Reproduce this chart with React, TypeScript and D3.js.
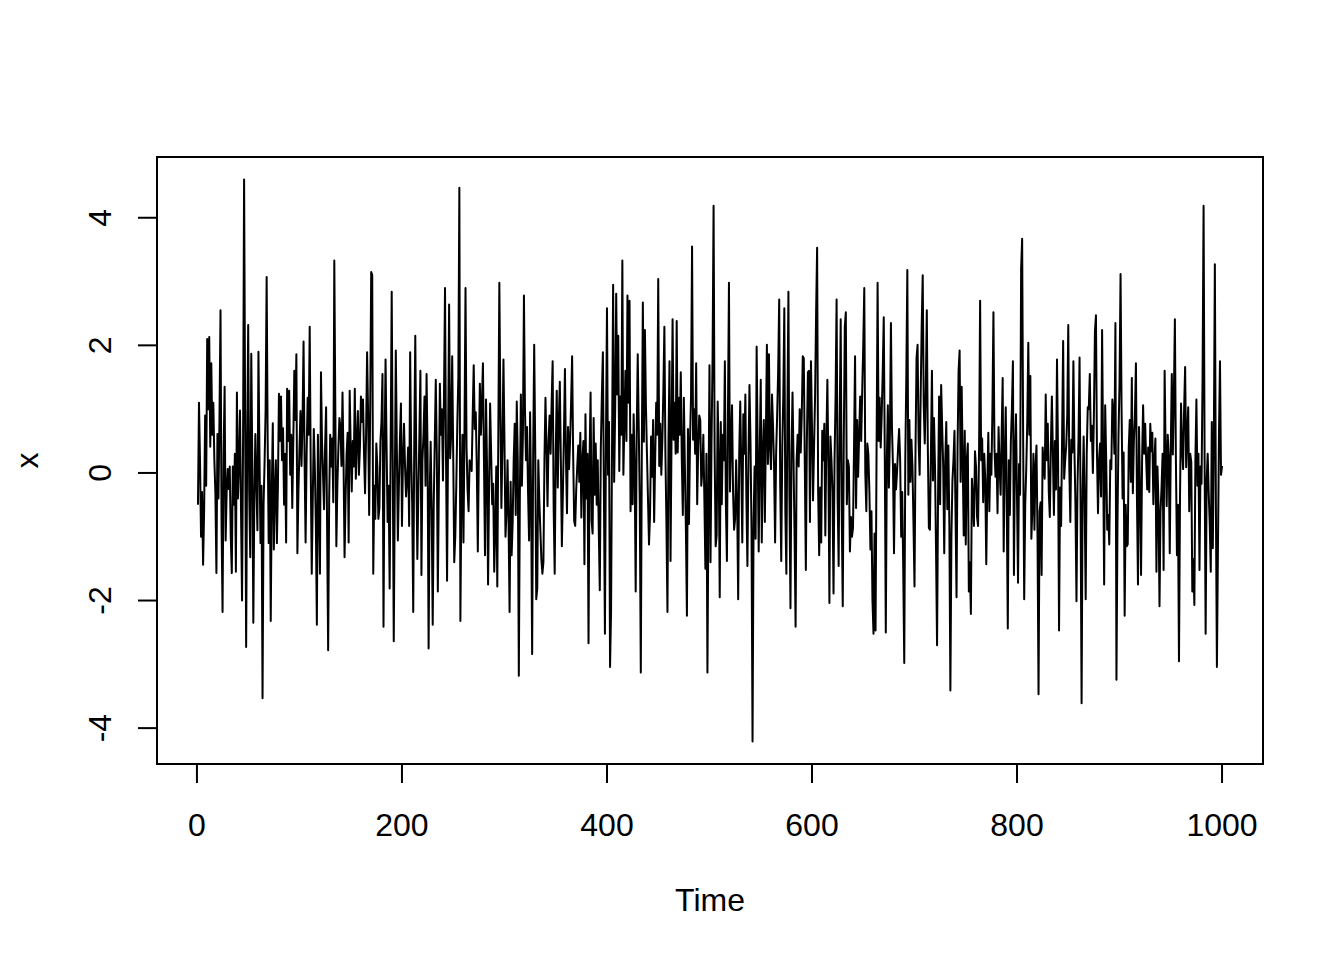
import React from "react";
import * as d3 from "d3";

const xTicks = [0, 200, 400, 600, 800, 1000];
const yTicks = [-4, -2, 0, 2, 4];
const xLabel = "Time";
const yLabel = "x";

const seriesX: number[] = [
  -0.5, 1.1, 0.2, -1.0, -0.3, -1.44, -0.6, 0.9, -0.2, 2.1, 1.0, 2.13, 0.41, 1.72, 0.6, 1.1, 0.2, -0.31, -1.57, 0.61,
  -0.4, 0.9, 2.55, -0.8, -2.18, 0.3, 1.35, -1.06, -0.3, 0.06, -0.25, 0.1, -1.0, -1.57, 0.1, -0.5, 0.3, -1.55, 1.26, -0.4,
  0.14, 0.98, -0.6, -2.0, 0.5, 4.6, 1.0, -2.73, 0.4, 2.32, -0.3, -1.32, 1.87, 0.2, -2.35, -0.4, 0.61, -0.2, -0.9, 1.9,
  0.3, -1.1, -0.2, -3.53, -0.5, 0.17, 1.0, 3.07, 0.5, -1.1, 0.2, -2.32, -0.3, 0.78, -1.2, -0.3, 0.2, -1.1, -0.2, 1.24,
  0.5, 1.2, 0.2, 0.7, -0.5, 0.3, -1.09, 1.32, 0.5, 1.29, -0.03, 0.6, -0.55, 0.5, 1.6, 0.83, 1.86, -1.26, -0.3, 0.37,
  0.97, 0.11, 0.8, 2.06, 0.2, -1.09, 0.3, 1.18, 0.6, 2.29, 0.1, -1.58, -0.4, 0.69, 0.09, -0.8, -2.38, 0.6, -0.5, -1.58,
  1.58, 0.5, -0.03, -0.57, 0.4, 1.03, -0.9, -2.78, -0.4, 0.6, 0.1, 0.54, -0.46, 3.33, 1.0, -1.15, -0.2, 0.4, 0.86, 0.72,
  0.11, 1.26, 0.2, -1.32, -0.4, 0.3, 0.63, -1.09, 1.29, 0.4, -0.29, 0.5, 0.1, 1.32, -0.09, 0.5, 0.97, -0.03, 0.4, 1.2,
  0.8, 1.15, 0.3, -0.32, 0.6, 1.89, 0.9, -0.66, 1.0, 3.15, 3.1, -1.58, -0.2, -0.72, 0.46, 0.1, -0.72, -0.55, 0.5, 0.8,
  1.55, -2.41, 0.3, 1.78, 0.4, -0.77, -0.2, -1.81, 0.5, 2.84, 0.2, -2.64, -0.3, 1.92, 0.4, -1.06, -0.2, 0.5, 1.09, -0.83,
  0.2, 0.77, 0.1, -0.37, -0.09, 0.4, -0.83, 1.89, 0.26, -0.5, -2.18, 0.5, 2.15, 0.1, -1.35, -0.3, 0.6, 1.6, -1.6, 0.2,
  0.6, 1.2, -0.2, 1.55, 0.3, -2.75, -0.4, 0.49, -0.6, -2.38, -0.5, 0.5, 1.46, 0.3, -1.86, -0.2, 1.4, 0.6, 1.0, -0.12,
  1.2, 2.9, 0.2, -1.69, 0.5, 2.64, 0.23, 0.6, 1.83, 0.3, -1.4, -1.0, -0.2, 0.77, 1.5, 4.47, -2.32, -0.3, 0.6, -1.09,
  0.7, 2.9, 0.4, -0.26, -0.6, 0.2, 0.14, 0.03, 0.9, 1.69, 0.69, 0.95, 0.1, -1.23, 0.3, 1.4, 0.6, 1.1, 1.72, 0.2,
  -1.29, 1.15, 0.1, -1.75, -0.2, 1.09, 0.3, -0.49, -0.17, -1.55, -0.89, 0.1, -1.78, 0.6, 2.98, 1.0, -0.55, 0.4, 1.78, 0.5,
  -1.0, -0.6, 0.2, -0.8, -2.18, -0.14, -1.29, -0.77, 0.2, 0.77, -0.66, 1.12, 0.2, -3.18, -0.4, 1.23, -0.2, 0.6, 2.78, 1.0,
  0.2, 0.72, -0.3, -1.06, 0.95, -0.4, -2.84, 0.3, 2.01, 0.4, -1.98, -1.81, 0.2, -0.43, -0.9, -1.35, -1.58, -1.4, 0.2, 1.18,
  0.4, -0.52, 0.49, 0.9, 0.3, 1.1, 1.75, -0.57, -1.58, 0.3, 1.29, -0.23, 0.8, 1.43, 0.2, -1.15, -0.3, 0.6, 1.63, 0.2,
  -0.63, 0.72, 0.06, 0.5, 1.1, 1.83, 0.3, -0.75, -0.83, -0.26, 0.1, 0.43, -0.14, 0.63, -0.7, 0.2, 0.5, -1.43, 0.92, -0.4,
  0.3, -2.67, 0.2, 1.26, -0.75, -0.95, 0.86, -0.34, 0.46, -0.5, 0.2, -0.9, -1.84, 0.4, 1.2, 1.89, -0.3, -2.52, 0.5, 2.58,
  -0.03, 0.8, -3.04, -2.15, 0.6, 2.95, -0.14, 1.0, 2.81, 1.23, 2.15, 0.03, 1.2, 0.6, 3.33, -0.03, 0.8, 1.6, 0.5, 2.78,
  1.1, 2.7, -0.6, 0.6, -0.49, 0.92, 0.1, -1.86, 0.6, 1.86, 0.72, -0.5, -3.13, 0.4, 2.67, 0.49, 2.24, 1.06, 0.3, -0.4,
  -1.12, -0.66, 0.57, -0.06, 0.83, -0.77, 0.2, 1.1, 0.6, 3.04, 0.11, 0.77, -0.03, 0.5, 1.3, 2.29, 0.3, -0.8, -2.18, 0.5,
  1.75, -1.38, 0.6, 2.41, 0.52, 1.1, 0.3, 2.38, 0.32, 1.18, 0.6, 1.58, 0.2, -0.66, 1.18, 0.1, -0.9, -2.24, 0.69, -0.8,
  0.5, 1.2, 3.55, 0.52, 1.0, 0.3, 1.72, -0.49, 0.4, 0.9, 0.83, -0.2, 0.03, 0.6, -0.4, -1.5, 0.3, -3.13, -0.5, 1.69,
  -1.4, 0.5, 1.8, 4.19, 0.4, -1.15, -0.98, 1.12, 0.2, -1.95, 0.8, -0.49, 0.6, 0.2, 1.75, -0.5, -1.38, 0.9, 2.98, -0.29,
  0.5, 1.06, -0.3, -0.89, -0.72, 0.2, -0.5, -1.98, 0.3, 1.12, 0.1, -1.09, 0.92, 0.3, 1.23, -0.4, -1.46, 0.2, 1.38, 0.5,
  -0.9, -4.21, -0.77, 0.1, -1.03, 1.98, 0.4, -1.23, 0.3, 1.46, -1.09, 0.3, 0.83, -0.77, 0.6, 2.01, 0.14, 1.86, 0.4, 0.06,
  1.23, 0.72, 0.1, -1.09, 0.3, 0.9, 1.6, 2.72, -0.2, -1.38, 0.4, 1.2, 2.58, -0.6, -1.58, 0.9, 2.84, -0.4, -2.12, 0.3,
  1.26, 0.2, -1.0, -2.41, 0.2, 0.6, 0.1, 1.0, 0.32, 0.9, 1.83, 1.8, 0.1, -1.52, 0.5, 1.58, 1.6, -0.77, 1.75, 0.72,
  -0.43, 0.4, 1.2, 2.5, 3.53, -0.3, -1.29, -0.23, -1.09, 0.66, 0.2, 0.77, -0.98, 0.5, 1.46, 0.1, -2.04, 0.57, 0.2, -0.3,
  -1.89, 0.2, 1.2, 2.72, -0.4, -1.46, 0.8, 2.41, -0.6, -2.09, 0.5, 2.29, 2.52, -0.49, 0.2, 0.1, -1.23, -0.69, -1.0, -0.86,
  0.4, 1.83, -0.55, 0.83, -0.06, 0.6, 1.2, 0.5, 1.3, 2.0, 2.9, 0.0, -0.6, 0.46, 0.29, -0.3, -1.2, -0.6, -2.0, -2.52,
  -0.95, -2.47, 0.4, 2.98, 0.5, 1.18, 0.4, 0.9, 1.6, 2.44, 0.3, -2.5, 0.2, 1.06, -0.23, 0.6, 2.35, 0.72, 0.1, -1.26,
  0.14, -0.26, 0.03, 0.4, 0.69, 0.2, -1.0, -0.3, -1.5, -2.98, 0.2, 1.5, 3.18, -0.34, 0.83, -0.14, 0.52, 0.1, -0.8, -1.78,
  0.4, 1.81, 2.01, 0.5, -0.03, 1.2, 2.3, 3.1, 1.06, 0.46, 1.3, 2.55, 0.4, -0.86, -0.89, 0.3, 1.6, -0.12, 0.86, 0.1,
  -1.2, -2.7, -0.3, 1.2, -0.49, 1.38, 0.72, 0.1, -1.26, 0.2, 0.8, -0.57, 0.43, -0.8, -3.41, -1.0, -0.12, 0.2, 0.66, -0.6,
  -1.95, 0.4, 1.6, 1.92, -0.14, 1.35, 0.2, -0.98, 0.66, -1.12, 0.2, 0.46, -1.86, -1.4, -2.21, -0.09, -0.4, -0.83, 0.34, 0.1,
  -0.69, -0.83, 0.4, 2.7, 0.2, 0.54, -0.46, 0.3, -0.09, -1.43, -0.2, 0.63, -0.6, 0.3, -0.03, 1.0, 2.52, 0.4, -0.06, 0.3,
  -0.63, 0.72, 0.1, -0.34, 0.6, 1.49, -1.23, 0.2, 1.03, -0.5, -2.44, 0.2, -0.66, 0.5, 1.0, 1.75, -1.6, 0.3, 0.92, -0.4,
  -1.72, 0.14, -0.34, 3.2, 3.67, 0.5, -1.98, -0.5, 0.06, 0.8, 2.04, 0.6, 1.52, -1.03, -0.55, 0.3, -0.89, 0.1, 0.43, -1.0,
  -3.47, -0.6, -0.46, -1.6, 0.4, 0.14, -0.09, 1.23, 0.2, 0.77, -0.3, -0.69, 0.4, 1.2, 0.3, -0.66, 0.5, -0.26, 1.78, 0.3,
  -2.47, -0.23, -0.83, 0.6, 2.07, -0.09, 0.2, 0.43, 0.9, 2.32, 0.1, -0.77, 0.52, 0.32, 1.75, 0.37, -0.5, -2.01, -0.2, 0.54,
  1.81, -0.5, -3.61, -0.3, 0.57, -0.5, -1.98, 0.3, 1.03, 1.0, 1.55, 0.5, 0.74, 0.0, 0.9, 2.21, 2.47, 0.3, -0.63, 0.2,
  0.46, -0.37, 2.24, 0.3, -1.75, 1.06, 0.2, -0.89, -0.66, -1.12, 0.2, 0.06, 1.15, 0.95, 0.3, 2.35, -3.24, -0.8, 0.6, 1.4,
  3.12, 1.0, -0.4, 0.32, -2.24, -0.5, -1.15, -1.12, 0.4, 0.83, -0.14, 1.49, -0.32, 0.5, 0.9, 1.72, -0.4, -1.75, 0.72, -0.3,
  -1.6, 0.2, 1.06, 0.3, 0.77, 0.2, -0.26, 0.4, -0.3, 0.77, 0.34, 0.63, -0.49, 0.2, 0.54, -1.55, 0.1, -0.49, -2.09, -0.6,
  -0.23, 0.3, -1.52, 1.6, 0.3, -0.52, 0.6, 0.26, -1.26, 0.4, 1.55, 0.29, 1.2, 2.41, 0.2, -1.29, -0.5, -2.95, -0.4, 1.09,
  0.4, 0.06, 1.0, 1.66, 0.09, 0.6, 1.03, -0.6, 0.3, 0.17, -1.86, -1.35, -2.07, 0.2, 1.15, -0.2, 0.3, -1.52, 0.1, -0.17,
  1.5, 4.19, 0.2, -2.52, -0.12, 0.3, -0.32, -0.8, -1.55, 0.8, -1.18, 0.5, 3.27, -0.5, -3.04, -1.2, 0.6, 1.75, -0.03, 0.11,
];

const W = 1344;
const H = 960;
const plotLeft = 157;
const plotRight = 1263;
const plotTop = 157;
const plotBottom = 764;
const FONT = "'Liberation Sans', Arial, Helvetica, sans-serif";
const FS = 32;

export default function App() {
  const times = seriesX.map((_, i) => i + 1);
  const [tMin, tMax] = d3.extent(times) as [number, number];
  const [vMin, vMax] = d3.extent(seriesX) as [number, number];
  const tPad = (tMax - tMin) * 0.04;
  const vPad = (vMax - vMin) * 0.04;

  const x = d3.scaleLinear().domain([tMin - tPad, tMax + tPad]).range([plotLeft, plotRight]);
  const y = d3.scaleLinear().domain([vMin - vPad, vMax + vPad]).range([plotBottom, plotTop]);

  const line = d3
    .line<number>()
    .x((_, i) => x(times[i]))
    .y((d) => y(d));

  const tickLen = 19;

  return (
    <div style={{ position: "absolute", left: 0, top: 0 }}>
      <svg width={W} height={H} style={{ display: "block", background: "#fff" }}>
        <rect x={0} y={0} width={W} height={H} fill="#fff" />
        <path d={line(seriesX) || ""} fill="none" stroke="#000" strokeWidth={2} strokeLinejoin="round" />
        <rect
          x={plotLeft}
          y={plotTop}
          width={plotRight - plotLeft}
          height={plotBottom - plotTop}
          fill="none"
          stroke="#000"
          strokeWidth={2}
        />
        {/* x axis */}
        <line
          x1={x(xTicks[0])}
          x2={x(xTicks[xTicks.length - 1])}
          y1={plotBottom}
          y2={plotBottom}
          stroke="#000"
          strokeWidth={2}
        />
        {xTicks.map((t) => (
          <g key={"xt" + t}>
            <line x1={x(t)} x2={x(t)} y1={plotBottom} y2={plotBottom + tickLen} stroke="#000" strokeWidth={2} />
            <text
              x={x(t)}
              y={825}
              textAnchor="middle"
              dominantBaseline="central"
              fontFamily={FONT}
              fontSize={FS}
              fill="#000"
            >
              {t}
            </text>
          </g>
        ))}
        {/* y axis */}
        <line
          x1={plotLeft}
          x2={plotLeft}
          y1={y(yTicks[0])}
          y2={y(yTicks[yTicks.length - 1])}
          stroke="#000"
          strokeWidth={2}
        />
        {yTicks.map((t) => (
          <g key={"yt" + t}>
            <line x1={plotLeft} x2={plotLeft - tickLen} y1={y(t)} y2={y(t)} stroke="#000" strokeWidth={2} />
            <text
              transform={`translate(100,${y(t)}) rotate(-90)`}
              textAnchor="middle"
              dominantBaseline="central"
              fontFamily={FONT}
              fontSize={FS}
              fill="#000"
            >
              {t}
            </text>
          </g>
        ))}
        <text
          x={(plotLeft + plotRight) / 2}
          y={900}
          textAnchor="middle"
          dominantBaseline="central"
          fontFamily={FONT}
          fontSize={FS}
          fill="#000"
        >
          {xLabel}
        </text>
        <text
          transform={`translate(27,${(plotTop + plotBottom) / 2}) rotate(-90)`}
          textAnchor="middle"
          dominantBaseline="central"
          fontFamily={FONT}
          fontSize={FS}
          fill="#000"
        >
          {yLabel}
        </text>
      </svg>
    </div>
  );
}
